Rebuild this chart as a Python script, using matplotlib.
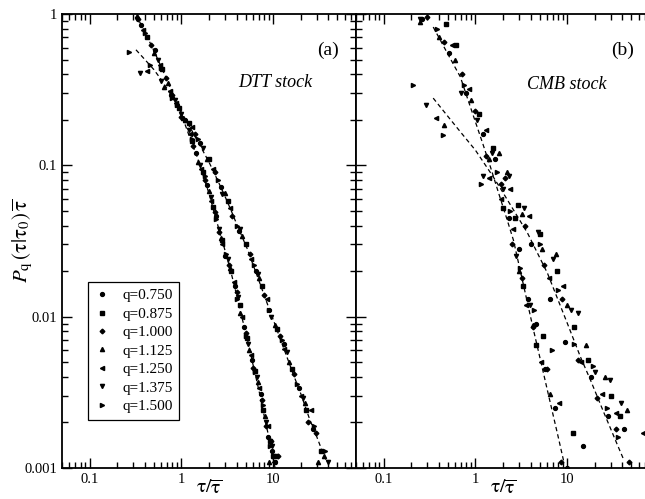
import numpy as np
import matplotlib
matplotlib.use("Agg")
import matplotlib.pyplot as plt
from matplotlib.ticker import LogLocator, FuncFormatter, NullFormatter

plt.rcParams['font.family'] = ['Liberation Serif', 'DejaVu Serif']
plt.rcParams['mathtext.fontset'] = 'stix'

q_values = [0.750, 0.875, 1.000, 1.125, 1.250, 1.375, 1.500]
markers = ['o', 's', 'D', '^', '<', 'v', '>']
msizes = [2.8, 2.8, 2.4, 3.0, 3.0, 3.0, 3.0]

# DTT stock, one list per q
dtt_x = [
    [0.36, 0.52, 0.78, 1.1, 1.45, 1.9, 2.4, 3.0, 3.8, 4.8, 5.9, 7.3, 8.7, 9.6, 10.4,
     0.9, 1.6, 2.7, 4.2, 6.5, 9.0, 13, 19, 27],
    [0.42, 0.62, 0.95, 1.3, 1.7, 2.2, 2.8, 3.5, 4.3, 5.2, 6.4, 7.8, 9.2, 10.0, 10.8,
     1.2, 2.0, 3.2, 5.0, 7.5, 11, 16, 23, 33],
    [0.34, 0.47, 0.68, 1.0, 1.35, 1.8, 2.3, 2.6, 3.3, 4.0, 5.0, 6.1, 7.6, 8.3, 9.4, 11.2,
     0.8, 1.4, 2.3, 3.6, 5.6, 8.0, 12, 17, 24, 29],
    [0.33, 0.5, 0.72, 1.05, 1.5, 2.0, 2.7, 3.4, 4.4, 5.5, 6.8, 8.1, 9.0,
     0.65, 1.1, 1.9, 3.0, 4.6, 7.0, 10.5, 15, 22, 31, 36],
    [0.38, 0.58, 0.88, 1.25, 1.65, 2.1, 2.8, 3.7, 4.6, 5.8, 7.0, 8.8, 10.1,
     0.42, 0.75, 1.3, 2.2, 3.4, 5.8, 8.5, 13, 20, 26],
    [0.33, 0.55, 0.85, 1.2, 1.6, 2.1, 2.6, 3.2, 4.1, 5.3, 6.6, 8.4, 9.8,
     0.35, 0.6, 1.0, 1.7, 2.8, 4.4, 6.8, 9.5, 14, 21, 40],
    [0.4, 0.6, 0.9, 1.3, 1.8, 2.4, 3.1, 4.0, 5.1, 6.3, 7.7, 9.3,
     0.27, 0.45, 0.8, 1.5, 2.5, 4.0, 6.2, 9.0, 12.5, 18, 28, 37],
]
dtt_y = [
    [0.84, 0.58, 0.29, 0.20, 0.12, 0.074, 0.046, 0.025, 0.016, 0.0085, 0.0052, 0.0031, 0.0016, 0.0013, 0.0011,
     0.25, 0.14, 0.072, 0.037, 0.020, 0.011, 0.0066, 0.0034, 0.0018],
    [0.70, 0.43, 0.24, 0.145, 0.09, 0.053, 0.032, 0.020, 0.012, 0.0072, 0.0044, 0.0024, 0.0015, 0.0012, 0.0012,
     0.19, 0.11, 0.058, 0.030, 0.016, 0.0083, 0.0045, 0.0024, 0.0013],
    [0.93, 0.62, 0.38, 0.21, 0.135, 0.08, 0.049, 0.036, 0.022, 0.0145, 0.0078, 0.0046, 0.0028, 0.0019, 0.0015, 0.0012,
     0.29, 0.16, 0.09, 0.046, 0.026, 0.014, 0.0074, 0.0042, 0.0020, 0.0017],
    [0.97, 0.55, 0.35, 0.205, 0.105, 0.068, 0.033, 0.021, 0.0105, 0.0060, 0.0037, 0.0022, 0.0011,
     0.33, 0.20, 0.11, 0.066, 0.034, 0.018, 0.0088, 0.0050, 0.0027, 0.0011, 0.0012],
    [0.78, 0.46, 0.26, 0.16, 0.095, 0.058, 0.030, 0.017, 0.010, 0.0056, 0.0034, 0.0019, 0.0011,
     0.42, 0.31, 0.18, 0.095, 0.052, 0.024, 0.013, 0.0061, 0.0030, 0.0024],
    [0.93, 0.50, 0.27, 0.17, 0.10, 0.062, 0.038, 0.024, 0.0135, 0.0066, 0.0040, 0.0020, 0.0014,
     0.41, 0.36, 0.22, 0.13, 0.065, 0.038, 0.019, 0.010, 0.0058, 0.0029, 0.0011],
    [0.75, 0.44, 0.25, 0.15, 0.085, 0.044, 0.026, 0.013, 0.0075, 0.0043, 0.0026, 0.0014,
     0.56, 0.46, 0.28, 0.15, 0.080, 0.040, 0.022, 0.011, 0.0070, 0.0036, 0.0019, 0.0013],
]

# CMB stock, one list per q
cmb_x = [
    [0.26, 0.52, 0.8, 1.2, 1.65, 2.3, 3.0, 3.7, 4.6, 5.8, 7.4, 10, 4.0, 6.5, 9.5, 15, 18, 28, 42],
    [0.48, 0.62, 1.1, 1.55, 2.0, 2.7, 3.3, 4.6, 5.5, 11.7, 2.9, 5.0, 7.8, 12, 17, 30, 38],
    [0.3, 0.45, 0.72, 1.0, 1.3, 1.9, 2.5, 3.2, 4.2, 6.0, 8.5, 2.1, 3.5, 5.6, 8.8, 13, 21, 34, 47],
    [0.25, 0.4, 0.6, 0.9, 0.46, 1.4, 2.2, 3.0, 4.2, 6.5, 1.8, 3.2, 5.3, 7.5, 10, 16, 26, 45],
    [0.37, 0.55, 0.85, 1.3, 1.9, 2.6, 3.6, 5.2, 1.4, 2.4, 3.8, 6.4, 9.0, 14, 24, 34, 67, 8.2],
    [0.25, 0.29, 0.7, 1.05, 1.5, 2.0, 2.8, 3.9, 1.2, 2.3, 3.4, 4.8, 7.0, 11, 13, 20, 29, 39],
    [0.21, 0.44, 0.38, 0.75, 1.15, 1.7, 2.4, 3.1, 4.4, 6.8, 5.0, 8.0, 12, 19, 27, 36],
]
cmb_y = [
    [0.93, 0.55, 0.30, 0.16, 0.11, 0.045, 0.028, 0.013, 0.0090, 0.0045, 0.0025, 0.0010, 0.030, 0.013, 0.0068, 0.0014, 0.0040, 0.0022, 0.0018],
    [0.86, 0.62, 0.22, 0.13, 0.052, 0.045, 0.016, 0.0065, 0.0075, 0.0017, 0.055, 0.035, 0.020, 0.0085, 0.0052, 0.0030, 0.0022],
    [0.95, 0.65, 0.40, 0.23, 0.115, 0.075, 0.030, 0.018, 0.0085, 0.0045, 0.0011, 0.083, 0.040, 0.022, 0.013, 0.0052, 0.0029, 0.0018, 0.0011],
    [0.88, 0.70, 0.50, 0.27, 0.185, 0.11, 0.09, 0.020, 0.0088, 0.0031, 0.12, 0.048, 0.028, 0.026, 0.012, 0.0065, 0.0040, 0.0024],
    [0.205, 0.62, 0.32, 0.17, 0.06, 0.038, 0.012, 0.0050, 0.082, 0.07, 0.046, 0.018, 0.016, 0.0050, 0.0031, 0.0023, 0.0017, 0.0027],
    [0.92, 0.25, 0.30, 0.20, 0.12, 0.07, 0.025, 0.012, 0.085, 0.085, 0.052, 0.036, 0.024, 0.011, 0.0105, 0.0043, 0.0038, 0.0027],
    [0.34, 0.158, 0.8, 0.34, 0.075, 0.09, 0.05, 0.021, 0.011, 0.0060, 0.030, 0.015, 0.0066, 0.0047, 0.0025, 0.0016],
]

# dashed fit curves
dtt_fit_steep_x = [0.35, 0.4, 0.5, 0.6, 0.7, 0.8, 1.0, 1.2, 1.5, 1.75, 2.0, 2.5, 3.0, 3.5, 4.0, 4.5, 5.0, 5.5, 6.0, 7.0, 8.0, 9.0, 10.0, 10.5]
dtt_fit_steep_y = [0.89, 0.76, 0.575, 0.45, 0.365, 0.30, 0.218, 0.16, 0.112, 0.084, 0.065, 0.040, 0.0272, 0.0193, 0.0139, 0.0102, 0.0080, 0.00625, 0.0049, 0.00326, 0.0022, 0.00159, 0.00116, 0.001]
dtt_fit_flat_x = [0.32, 0.4, 0.5, 0.6, 0.7, 0.85, 1.0, 1.25, 1.5, 1.75, 2.0, 2.5, 3.0, 3.5, 4.0, 5.3, 6.0, 7.0, 8.5, 10, 12, 14, 17, 20, 25, 30, 35, 38.5]
dtt_fit_flat_y = [0.58, 0.50, 0.43, 0.37, 0.32, 0.265, 0.225, 0.177, 0.145, 0.122, 0.105, 0.079, 0.062, 0.050, 0.041, 0.0275, 0.0223, 0.0173, 0.0125, 0.0096, 0.0071, 0.0055, 0.0040, 0.0031, 0.0021, 0.0016, 0.00125, 0.0011]
cmb_fit_steep_x = [0.347, 0.4, 0.5, 0.6, 0.686, 0.8, 1.0, 1.2, 1.46, 1.8, 2.2, 2.6, 3.0, 3.5, 4.3, 5.0, 6.0, 7.12, 8.0, 9.2]
cmb_fit_steep_y = [0.82, 0.70, 0.545, 0.445, 0.384, 0.29, 0.194, 0.14, 0.0975, 0.065, 0.0444, 0.032, 0.0217, 0.0143, 0.00816, 0.0055, 0.0034, 0.00217, 0.0016, 0.0011]
cmb_fit_flat_x = [0.347, 0.5, 0.7, 1.0, 1.25, 1.57, 2.0, 2.5, 3.0, 3.7, 4.5, 5.0, 6.1, 8.0, 10, 14, 18, 25, 30, 35, 41.5]
cmb_fit_flat_y = [0.278, 0.211, 0.164, 0.126, 0.103, 0.0837, 0.066, 0.0528, 0.044, 0.0357, 0.0281, 0.0247, 0.0194, 0.0128, 0.0091, 0.0054, 0.0038, 0.00234, 0.0018, 0.00144, 0.00113]

W, H = 645, 499
fig = plt.figure(figsize=(W / 100, H / 100), dpi=100)
left, right_edge, top, bottom = 62, 356, 14, 468
pw = right_edge - left
ax_a = fig.add_axes([left / W, 1 - bottom / H, pw / W, (bottom - top) / H])
ax_b = fig.add_axes([right_edge / W, 1 - bottom / H, pw / W, (bottom - top) / H])

fmt = FuncFormatter(lambda v, pos: '%g' % v)


def style(ax):
    ax.set_xscale('log')
    ax.set_yscale('log')
    ax.set_xlim(0.05, 80)
    ax.set_ylim(0.001, 1)
    for s in ax.spines.values():
        s.set_linewidth(1.3)
    ax.xaxis.set_major_locator(LogLocator(base=10))
    ax.yaxis.set_major_locator(LogLocator(base=10))
    ax.xaxis.set_minor_locator(LogLocator(base=10, subs=np.arange(2, 10)))
    ax.yaxis.set_minor_locator(LogLocator(base=10, subs=np.arange(2, 10)))
    ax.xaxis.set_major_formatter(fmt)
    ax.yaxis.set_major_formatter(fmt)
    ax.xaxis.set_minor_formatter(NullFormatter())
    ax.yaxis.set_minor_formatter(NullFormatter())
    ax.tick_params(which='both', direction='in', top=True, right=True, left=True,
                   labelsize=10.5, width=1.0)
    ax.tick_params(which='major', length=7)
    ax.tick_params(which='minor', length=4)
    ax.set_xlabel(r'$\mathrm{\tau}/\overline{\mathrm{\tau}}$', fontsize=14, va='center')
    ax.xaxis.set_label_coords(0.5, -0.045)


def draw(ax, xs, ys, fits):
    for fx, fy in fits:
        ax.plot(fx, fy, ls=(0, (3.5, 2.5)), color='black', lw=0.9)
    for i, q in enumerate(q_values):
        ax.plot(xs[i], ys[i], ls='none', marker=markers[i], ms=msizes[i],
                color='black', mec='black', label='q=%.3f' % q)


style(ax_a)
style(ax_b)
draw(ax_a, dtt_x, dtt_y, [(dtt_fit_steep_x, dtt_fit_steep_y), (dtt_fit_flat_x, dtt_fit_flat_y)])
draw(ax_b, cmb_x, cmb_y, [(cmb_fit_steep_x, cmb_fit_steep_y), (cmb_fit_flat_x, cmb_fit_flat_y)])
ax_b.tick_params(which='both', labelleft=False, right=False)

ax_a.set_ylabel(r'$P_{\mathrm{q}}\,(\mathrm{\tau}|\mathrm{\tau}_0)\,\overline{\mathrm{\tau}}$',
                fontsize=15, va='center')
ax_a.yaxis.set_label_coords(-0.133, 0.5)

ax_a.text(0.905, 0.92, '(a)', transform=ax_a.transAxes, ha='center', va='center', fontsize=14)
ax_a.text(0.724, 0.85, 'DTT stock', transform=ax_a.transAxes, ha='center', va='center',
          fontsize=13, style='italic')
ax_b.text(0.908, 0.92, '(b)', transform=ax_b.transAxes, ha='center', va='center', fontsize=14)
ax_b.text(0.718, 0.844, 'CMB stock', transform=ax_b.transAxes, ha='center', va='center',
          fontsize=13, style='italic')

leg = ax_a.legend(loc='upper left', bbox_to_anchor=(0.088, 0.41), fontsize=11,
                  frameon=True, fancybox=False, edgecolor='black', framealpha=1,
                  handlelength=1.0, handletextpad=0.8, borderaxespad=0,
                  borderpad=0.45, labelspacing=0.31, markerscale=1.0)
leg.get_frame().set_linewidth(0.9)

fig.savefig('out.png', dpi=100)
